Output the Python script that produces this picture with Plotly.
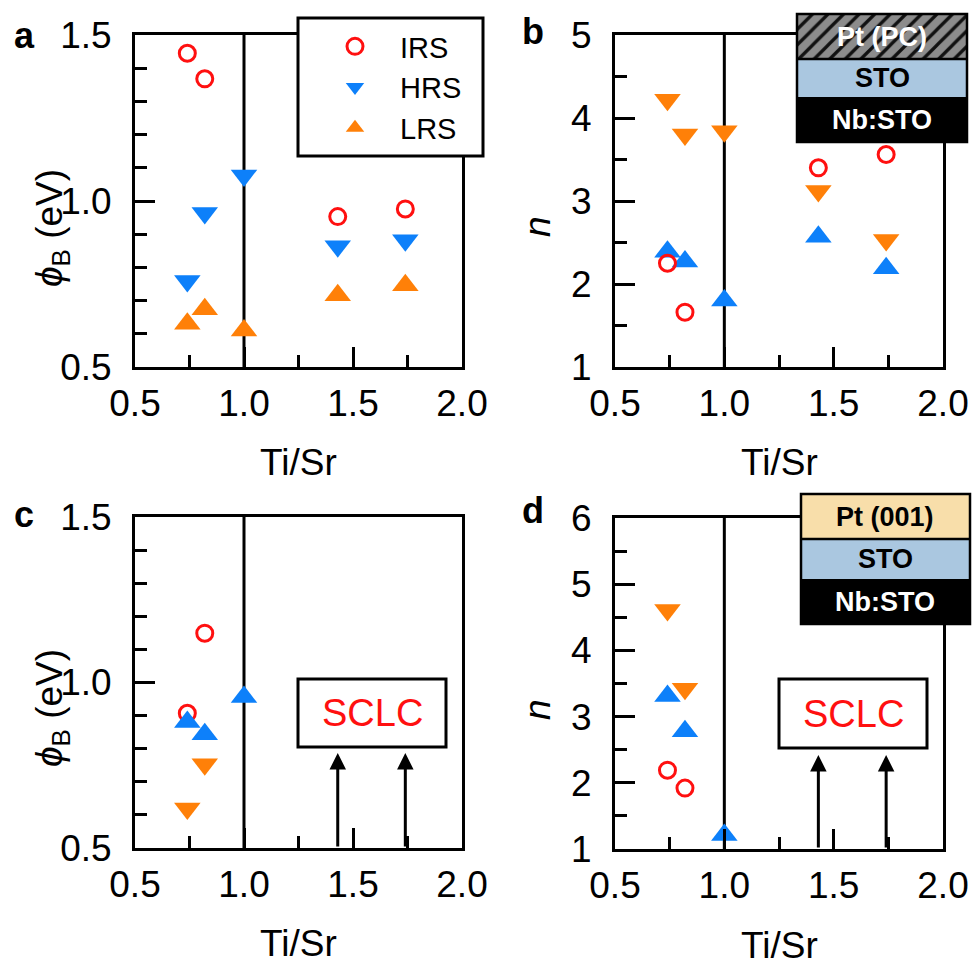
import plotly.graph_objects as go

# ---------------- data ----------------
ti_sr = [0.74, 0.82, 1.00, 1.43, 1.74]
ti_sr_irs = [0.74, 0.82, 1.43, 1.74]
ti_sr_c_irs = [0.74, 0.82]
ti_sr_c_up = [0.74, 0.82, 1.00]
ti_sr_c_down = [0.74, 0.82]
ti_sr_sclc = [1.43, 1.74]

# panel a: barrier height (eV)
phi_irs_a = [1.445, 1.368, 0.953, 0.976]
phi_hrs_a = [0.759, 0.964, 1.077, 0.864, 0.882]
phi_lrs_a = [0.630, 0.674, 0.610, 0.716, 0.746]

# panel b: ideality factor n
n_irs_b = [2.25, 1.66, 3.40, 3.56]
n_down_b = [4.22, 3.80, 3.84, 3.12, 2.53]
n_up_b = [2.39, 2.27, 1.80, 2.57, 2.19]

# panel c: barrier height (eV)
phi_irs_c = [0.907, 1.149]
phi_up_c = [0.881, 0.844, 0.956]
phi_down_c = [0.619, 0.753]

# panel d: ideality factor n
n_irs_d = [2.19, 1.92]
n_up_d = [3.31, 2.78, 1.21]
n_down_d = [4.61, 3.42]

x_ticks = [0.5, 1.0, 1.5, 2.0]
x_ticktext = ["0.5", "1.0", "1.5", "2.0"]
phi_ticks = [0.5, 1.0, 1.5]
phi_ticktext = ["0.5", "1.0", "1.5"]
n_ticks_b = [1, 2, 3, 4, 5]
n_ticks_d = [1, 2, 3, 4, 5, 6]

# ---------------- style ----------------
RED = "#ff1010"
BLUE = "#0d80fa"
ORANGE = "#ff8008"
FONT = "Liberation Sans, Arial, sans-serif"
W, H = 973, 965


def px(x):
    return x / W


def py(y):
    return 1 - y / H


fig = go.Figure()

TRI = 23
circle = dict(symbol="circle-open", size=16, color=RED, line=dict(width=3, color=RED))
tri_down_blue = dict(symbol="triangle-down", size=TRI, color=BLUE)
tri_up_orange = dict(symbol="triangle-up", size=TRI, color=ORANGE)
tri_down_orange = dict(symbol="triangle-down", size=TRI, color=ORANGE)
tri_up_blue = dict(symbol="triangle-up", size=TRI, color=BLUE)

# panel a
fig.add_trace(go.Scatter(x=ti_sr_irs, y=phi_irs_a, mode="markers", marker=circle, name="IRS",
                         xaxis="x", yaxis="y", cliponaxis=False))
fig.add_trace(go.Scatter(x=ti_sr, y=phi_hrs_a, mode="markers", marker=tri_down_blue, name="HRS",
                         xaxis="x", yaxis="y", cliponaxis=False))
fig.add_trace(go.Scatter(x=ti_sr, y=phi_lrs_a, mode="markers", marker=tri_up_orange, name="LRS",
                         xaxis="x", yaxis="y", cliponaxis=False))
# panel b
fig.add_trace(go.Scatter(x=ti_sr, y=n_down_b, mode="markers", marker=tri_down_orange, showlegend=False,
                         xaxis="x2", yaxis="y2", cliponaxis=False))
fig.add_trace(go.Scatter(x=ti_sr, y=n_up_b, mode="markers", marker=tri_up_blue, showlegend=False,
                         xaxis="x2", yaxis="y2", cliponaxis=False))
fig.add_trace(go.Scatter(x=ti_sr_irs, y=n_irs_b, mode="markers", marker=circle, showlegend=False,
                         xaxis="x2", yaxis="y2", cliponaxis=False))
# panel c
fig.add_trace(go.Scatter(x=ti_sr_c_irs, y=phi_irs_c, mode="markers", marker=circle, showlegend=False,
                         xaxis="x3", yaxis="y3", cliponaxis=False))
fig.add_trace(go.Scatter(x=ti_sr_c_up, y=phi_up_c, mode="markers", marker=tri_up_blue, showlegend=False,
                         xaxis="x3", yaxis="y3", cliponaxis=False))
fig.add_trace(go.Scatter(x=ti_sr_c_down, y=phi_down_c, mode="markers", marker=tri_down_orange, showlegend=False,
                         xaxis="x3", yaxis="y3", cliponaxis=False))
# panel d
fig.add_trace(go.Scatter(x=ti_sr_c_irs, y=n_irs_d, mode="markers", marker=circle, showlegend=False,
                         xaxis="x4", yaxis="y4", cliponaxis=False))
fig.add_trace(go.Scatter(x=ti_sr_c_up, y=n_up_d, mode="markers", marker=tri_up_blue, showlegend=False,
                         xaxis="x4", yaxis="y4", cliponaxis=False))
fig.add_trace(go.Scatter(x=ti_sr_c_down, y=n_down_d, mode="markers", marker=tri_down_orange, showlegend=False,
                         xaxis="x4", yaxis="y4", cliponaxis=False))

# hatched Pt (PC) layer of the inset (helper axes)
fig.add_trace(go.Bar(x=[0], y=[1], width=[1], showlegend=False, hoverinfo="skip",
                     marker=dict(color="#8c8c8c", line=dict(width=0),
                                 pattern=dict(shape="/", fgcolor="#111111", bgcolor="#8c8c8c",
                                              size=11, solidity=0.3)),
                     xaxis="x5", yaxis="y5"))

axis_common = dict(showline=True, linewidth=3, linecolor="black", mirror=True,
                   ticks="inside", ticklen=20, tickwidth=3, tickcolor="black",
                   showgrid=False, zeroline=False, automargin=False,
                   tickfont=dict(family=FONT, size=37, color="black"))

xa = dict(axis_common, range=[0.5, 2.0], tickvals=x_ticks, ticktext=x_ticktext,
          minor=dict(tickvals=[0.75, 1.25, 1.75], ticks="inside", ticklen=12, tickwidth=3, tickcolor="black"),
          ticklabelstandoff=2)

xd_l = [px(135), px(462)]
xd_r = [px(615), px(943)]

layout = dict(
    template="none",
    width=W, height=H, autosize=False,
    margin=dict(l=0, r=0, t=0, b=0, pad=0, autoexpand=False),
    paper_bgcolor="white", plot_bgcolor="white",
    font=dict(family=FONT, color="black"),
    xaxis=dict(xa, domain=xd_l, anchor="y"),
    xaxis2=dict(xa, domain=xd_r, anchor="y2"),
    xaxis3=dict(xa, domain=xd_l, anchor="y3"),
    xaxis4=dict(xa, domain=xd_r, anchor="y4"),
    yaxis=dict(axis_common, domain=[py(367), py(35)], anchor="x", range=[0.5, 1.5],
               tickvals=phi_ticks, ticktext=phi_ticktext, ticklabelstandoff=13,
               minor=dict(dtick=0.1, ticks="inside", ticklen=12, tickwidth=3, tickcolor="black")),
    yaxis2=dict(axis_common, domain=[py(367), py(35)], anchor="x2", range=[1, 5],
                tickvals=n_ticks_b, ticklabelstandoff=13,
                minor=dict(dtick=0.5, ticks="inside", ticklen=12, tickwidth=3, tickcolor="black")),
    yaxis3=dict(axis_common, domain=[py(848), py(517)], anchor="x3", range=[0.5, 1.5],
                tickvals=phi_ticks, ticktext=phi_ticktext, ticklabelstandoff=13,
                minor=dict(dtick=0.1, ticks="inside", ticklen=12, tickwidth=3, tickcolor="black")),
    yaxis4=dict(axis_common, domain=[py(849), py(518)], anchor="x4", range=[1, 6],
                tickvals=n_ticks_d, ticklabelstandoff=13,
                minor=dict(dtick=0.5, ticks="inside", ticklen=12, tickwidth=3, tickcolor="black")),
    xaxis5=dict(domain=[px(797), px(967)], range=[-0.5, 0.5], visible=False, fixedrange=True,
                anchor="y5", automargin=False),
    yaxis5=dict(domain=[py(59), py(14)], range=[0, 1], visible=False, fixedrange=True,
                anchor="x5", automargin=False),
    bargap=0,
    legend=dict(x=px(310), y=py(21), xanchor="left", yanchor="top",
                bgcolor="rgba(0,0,0,0)", borderwidth=0, itemwidth=80,
                font=dict(family=FONT, size=29, color="black")),
    showlegend=True,
)
fig.update_layout(**layout)

shapes = []
# vertical lines at Ti/Sr = 1
for i in ["", "2", "3", "4"]:
    shapes.append(dict(type="line", xref="x" + i, yref="y" + i + " domain", x0=1.0, x1=1.0, y0=0, y1=1,
                       line=dict(color="black", width=3), layer="below"))
# legend box (panel a)
shapes.append(dict(type="rect", xref="paper", yref="paper", x0=px(298), x1=px(483), y0=py(156), y1=py(18),
                   line=dict(color="black", width=3), fillcolor="white", layer="above"))
# inset stack b
shapes.append(dict(type="rect", xref="paper", yref="paper", x0=px(797), x1=px(967), y0=py(97), y1=py(59),
                   line=dict(width=0), fillcolor="#aac7e0", layer="above"))
shapes.append(dict(type="rect", xref="paper", yref="paper", x0=px(797), x1=px(967), y0=py(142), y1=py(97),
                   line=dict(width=0), fillcolor="black", layer="above"))
shapes.append(dict(type="rect", xref="paper", yref="paper", x0=px(797), x1=px(967), y0=py(142), y1=py(14),
                   line=dict(color="black", width=2.5), fillcolor="rgba(0,0,0,0)", layer="above"))
shapes.append(dict(type="line", xref="paper", yref="paper", x0=px(797), x1=px(967), y0=py(59), y1=py(59),
                   line=dict(color="black", width=2.5), layer="above"))
# inset stack d
shapes.append(dict(type="rect", xref="paper", yref="paper", x0=px(801), x1=px(970), y0=py(539), y1=py(494),
                   line=dict(width=0), fillcolor="#f8deaa", layer="above"))
shapes.append(dict(type="rect", xref="paper", yref="paper", x0=px(801), x1=px(970), y0=py(579), y1=py(539),
                   line=dict(width=0), fillcolor="#aac7e0", layer="above"))
shapes.append(dict(type="rect", xref="paper", yref="paper", x0=px(801), x1=px(970), y0=py(624), y1=py(579),
                   line=dict(width=0), fillcolor="black", layer="above"))
shapes.append(dict(type="rect", xref="paper", yref="paper", x0=px(801), x1=px(970), y0=py(624), y1=py(494),
                   line=dict(color="black", width=2.5), fillcolor="rgba(0,0,0,0)", layer="above"))
shapes.append(dict(type="line", xref="paper", yref="paper", x0=px(801), x1=px(970), y0=py(539), y1=py(539),
                   line=dict(color="black", width=2.5), layer="above"))
# SCLC boxes
shapes.append(dict(type="rect", xref="paper", yref="paper", x0=px(298), x1=px(446), y0=py(747), y1=py(679),
                   line=dict(color="black", width=3), fillcolor="white", layer="above"))
shapes.append(dict(type="rect", xref="paper", yref="paper", x0=px(779), x1=px(927), y0=py(748), y1=py(679),
                   line=dict(color="black", width=3), fillcolor="white", layer="above"))
fig.update_layout(shapes=shapes)

ann = []


def text(x, y, s, size, color="black", angle=0):
    ann.append(dict(xref="paper", yref="paper", x=px(x), y=py(y), text=s, showarrow=False,
                    xanchor="center", yanchor="middle", textangle=angle,
                    font=dict(family=FONT, size=size, color=color)))


# panel letters
text(24, 36, "<b>a</b>", 36)
text(533, 32, "<b>b</b>", 36)
text(24, 514, "<b>c</b>", 36)
text(533, 510, "<b>d</b>", 36)
# axis titles
for xc, yc in [(298.5, 462), (779, 462), (298.5, 943), (779, 945)]:
    text(xc, yc, "Ti/Sr", 37)
text(52, 228, "<i>ϕ</i><sub>B</sub> (eV)", 37, angle=-90)
text(52, 708, "<i>ϕ</i><sub>B</sub> (eV)", 37, angle=-90)
text(537, 227, "<i>n</i>", 37, angle=-90)
text(537, 710, "<i>n</i>", 37, angle=-90)
# inset labels
text(882, 37, "<b>Pt (PC)</b>", 27, color="white")
text(882, 78, "<b>STO</b>", 27)
text(882, 120, "<b>Nb:STO</b>", 27, color="white")
text(885, 517, "<b>Pt (001)</b>", 27)
text(885, 559, "<b>STO</b>", 27)
text(885, 602, "<b>Nb:STO</b>", 27, color="white")
# SCLC labels
text(372, 713, "SCLC", 38, color=RED)
text(853, 714, "SCLC", 38, color=RED)

# arrows pointing to SCLC boxes
for xv in ti_sr_sclc:
    ann.append(dict(xref="x3", yref="y3", axref="x3", ayref="y3", x=xv, y=0.787, ax=xv, ay=0.5,
                    text="", showarrow=True, arrowhead=2, arrowsize=1.1, arrowwidth=3,
                    arrowcolor="black", standoff=0, startstandoff=0))
    ann.append(dict(xref="x4", yref="y4", axref="x4", ayref="y4", x=xv, y=2.42, ax=xv, ay=1.0,
                    text="", showarrow=True, arrowhead=2, arrowsize=1.1, arrowwidth=3,
                    arrowcolor="black", standoff=0, startstandoff=0))
fig.update_layout(annotations=ann)

fig.write_html("out.html", config={"displayModeBar": False, "staticPlot": True},
               post_script="document.body.style.margin='0';document.body.style.overflow='hidden';")
